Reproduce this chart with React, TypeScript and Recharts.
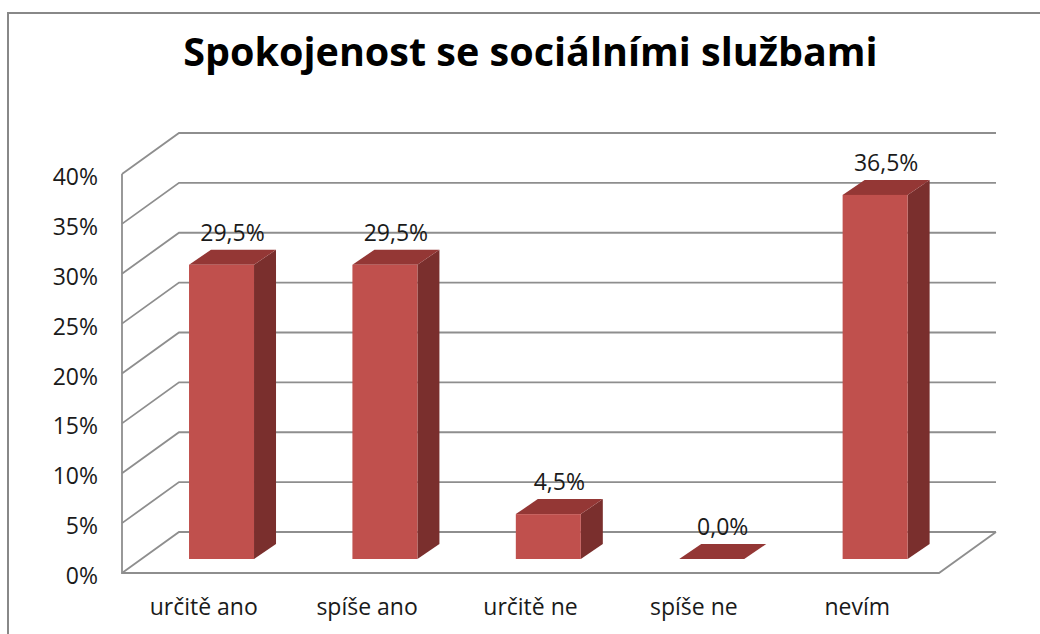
import React from 'react';
import { BarChart, Bar, XAxis, YAxis, CartesianGrid, LabelList } from 'recharts';

const TITLE = 'Spokojenost se sociálními službami';
const categories = ['určitě ano', 'spíše ano', 'určitě ne', 'spíše ne', 'nevím'];
const values = [29.5, 29.5, 4.5, 0.0, 36.5];
const yTicks = [0, 5, 10, 15, 20, 25, 30, 35, 40];

const data = categories.map((c, i) => ({ name: c, value: values[i] }));

// 3D projection offsets (relative to the bar plane)
const FRONT_DX = -18;
const FRONT_DY = 14;
const BACK_DX = 39;
const BACK_DY = -27;
const BAR_DX = 22;
const BAR_DY = 15;

const GRID = '#8E8E8E';
const FRONT = '#C0504D';
const TOP = '#943735';
const SIDE = '#7A2F2D';
const TEXT = '#1A1A1A';
const FONT = "'Open Sans', sans-serif";

const fmtTick = (v: number) => `${v}%`;
const fmtLabel = (v: number) => `${v.toFixed(1).replace('.', ',')}%`;

const GridLine = (props: any) => {
  const { x1, x2, y1, y, height, index } = props;
  const fx = x1 + FRONT_DX;
  const bx1 = x1 + BACK_DX;
  const bx2 = x2 + BACK_DX;
  const isFloor = Math.abs(y1 - (y + height)) < 0.5;
  return (
    <g key={`gl-${index}`}>
      <polyline
        points={`${fx},${y1 + FRONT_DY} ${bx1},${y1 + BACK_DY} ${bx2},${y1 + BACK_DY}`}
        fill="none"
        stroke={GRID}
        strokeWidth={1.8}
      />
      {isFloor && (
        <polyline
          points={`${fx},${y + FRONT_DY} ${fx},${y1 + FRONT_DY} ${x2 + FRONT_DX},${y1 + FRONT_DY} ${bx2},${y1 + BACK_DY}`}
          fill="none"
          stroke={GRID}
          strokeWidth={1.8}
        />
      )}
    </g>
  );
};

const Bar3D = (props: any) => {
  const { x, y, width, height } = props;
  const w = width;
  const h = Math.max(0, height);
  return (
    <g>
      <polygon
        points={`${x + w},${y} ${x + w + BAR_DX},${y - BAR_DY} ${x + w + BAR_DX},${y + h - BAR_DY} ${x + w},${y + h}`}
        fill={SIDE}
      />
      <polygon
        points={`${x},${y} ${x + BAR_DX},${y - BAR_DY} ${x + w + BAR_DX},${y - BAR_DY} ${x + w},${y}`}
        fill={TOP}
      />
      {h > 0 && <rect x={x} y={y} width={w} height={h} fill={FRONT} />}
    </g>
  );
};

const YTick = (props: any) => {
  const { x, y, payload } = props;
  return (
    <text
      x={x - 42}
      y={y + FRONT_DY + 2}
      textAnchor="end"
      dominantBaseline="central"
      fontFamily={FONT}
      fontSize={23}
      fill={TEXT}
    >
      {fmtTick(payload.value)}
    </text>
  );
};

const XTick = (props: any) => {
  const { x, y, payload } = props;
  return (
    <text
      x={x + FRONT_DX}
      y={y + 56}
      textAnchor="middle"
      fontFamily={FONT}
      fontSize={23}
      fill={TEXT}
    >
      {payload.value}
    </text>
  );
};

const BarLabel = (props: any) => {
  const { x, y, width, value } = props;
  return (
    <text
      x={x + width / 2 + BAR_DX / 2}
      y={y - 33}
      textAnchor="middle"
      dominantBaseline="central"
      fontFamily={FONT}
      fontSize={23}
      fill={TEXT}
    >
      {fmtLabel(value)}
    </text>
  );
};

export default function App() {
  return (
    <div
      style={{
        position: 'absolute',
        left: 0,
        top: 0,
        width: 1040,
        height: 634,
        overflow: 'hidden',
        background: '#fff',
      }}
    >
      <div
        style={{
          position: 'absolute',
          left: 7,
          top: 12,
          width: 2000,
          height: 2000,
          borderLeft: '2px solid #888',
          borderTop: '2px solid #888',
        }}
      />
      <div
        style={{
          position: 'absolute',
          left: 0,
          width: 1061,
          top: 27,
          textAlign: 'center',
          fontFamily: FONT,
          fontWeight: 700,
          fontSize: 39.5,
          lineHeight: '48px',
          color: '#000',
          whiteSpace: 'nowrap',
        }}
      >
        {TITLE}
      </div>
      <div style={{ position: 'absolute', left: 0, top: 0 }}>
        <BarChart
          width={1040}
          height={634}
          data={data}
          margin={{ top: 160, right: 83, bottom: 35, left: 0 }}
          barCategoryGap="30%"
        >
          <CartesianGrid vertical={false} horizontal={GridLine} />
          <YAxis
            width={140}
            domain={[0, 40]}
            ticks={yTicks}
            interval={0}
            axisLine={false}
            tickLine={false}
            tickSize={0}
            tickMargin={0}
            tick={YTick}
          />
          <XAxis
            dataKey="name"
            height={40}
            axisLine={false}
            tickLine={false}
            tickSize={0}
            tickMargin={0}
            interval={0}
            tick={XTick}
          />
          <Bar dataKey="value" isAnimationActive={false} shape={Bar3D}>
            <LabelList dataKey="value" content={BarLabel} />
          </Bar>
        </BarChart>
      </div>
    </div>
  );
}
